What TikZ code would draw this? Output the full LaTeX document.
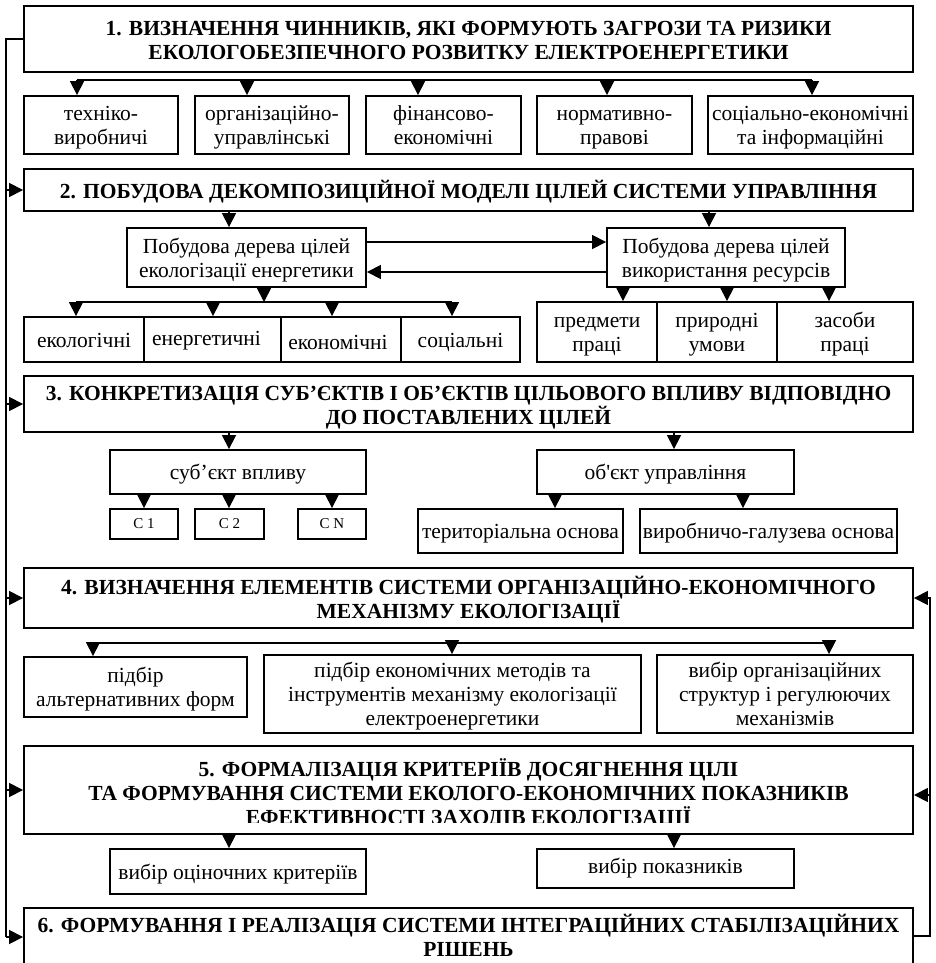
\documentclass[tikz,border=0pt]{standalone}
\usepackage{fontspec}
\setmainfont{Liberation Serif}
\usetikzlibrary{arrows.meta}
\newcommand\vconn[3]{\draw[arr] (#1,0 |- #2) -- (#1,0 |- #3);}
\newcommand\bh{\rule{0pt}{22.8pt}}
\newcommand\bd{\rule[-7.2pt]{0pt}{7.2pt}}
\newcommand\tsh{\rule{0pt}{21.5pt}}
\newcommand\tsd{\rule[-4.5pt]{0pt}{4.5pt}}
\newcommand\bt[1]{\bh#1\bd}
\newcommand\ttl[1]{\tsh#1\tsd}
\begin{document}
\begin{tikzpicture}[x=1pt,y=-1pt,
 box/.style={draw, line width=1.9pt, inner sep=0pt, align=center, font=\fontsize{21.5}{24}\selectfont},
 tbox/.style={box, font=\fontsize{21.5}{24}\selectfont\bfseries},
 txt/.style={inner sep=0pt, align=center, font=\fontsize{21.5}{24}\selectfont\bfseries},
 small/.style={box, font=\fontsize{15}{17}\selectfont},
 ln/.style={line width=1.7pt},
 arr/.style={line width=1.7pt, -{Triangle[width=14pt,length=14pt]}}]
\clip (0,0) rectangle (935,963);
\fill[white] (0,0) rectangle (935,963);
% ---- block 1
\node[tbox, minimum width=889pt, minimum height=66pt] (b1) at (468.5,39) {\raisebox{-2pt}{\parbox{880pt}{\centering\tsh 1. ВИЗНАЧЕННЯ ЧИННИКІВ, ЯКІ ФОРМУЮТЬ ЗАГРОЗИ ТА РИЗИКИ\\ЕКОЛОГОБЕЗПЕЧНОГО РОЗВИТКУ ЕЛЕКТРОЕНЕРГЕТИКИ\tsd}}};
\node[box, minimum width=154pt, minimum height=58pt] (f1) at (101,125) {\bt{техніко-\\виробничі}};
\node[box, minimum width=154pt, minimum height=58pt] (f2) at (272,125) {\bt{організаційно-\\управлінські}};
\node[box, minimum width=155pt, minimum height=58pt] (f3) at (443.5,125) {\bt{фінансово-\\економічні}};
\node[box, minimum width=155pt, minimum height=58pt] (f4) at (614.5,125) {\bt{нормативно-\\правові}};
\node[box, minimum width=205pt, minimum height=58pt] (f5) at (810.5,125) {\bt{соціально-економічні\\та інформаційні}};
\coordinate (d1a) at (77,80);
\coordinate (d1b) at (812,80);
\draw[ln] (d1a) -- (d1b);
\foreach \n/\x in {f1/77,f2/247,f3/418,f4/607,f5/812} {\vconn{\x}{d1a}{\n.north}}
% ---- block 2
\node[tbox, minimum width=889pt, minimum height=42pt] (b2) at (468.5,190) {\ttl{2. ПОБУДОВА ДЕКОМПОЗИЦІЙНОЇ МОДЕЛІ ЦІЛЕЙ СИСТЕМИ УПРАВЛІННЯ}};
\node[box, minimum width=239pt, minimum height=59pt] (g1) at (246.5,257.5) {\bt{Побудова дерева цілей\\екологізації енергетики}};
\node[box, minimum width=238pt, minimum height=59pt] (g2) at (726,257.5) {\bt{Побудова дерева цілей\\використання ресурсів}};
\vconn{229}{b2.south}{g1.north}
\vconn{709}{b2.south}{g2.north}
\draw[arr] (g1.east |- 0,242) -- (g2.west |- 0,242);
\draw[arr] (g2.west |- 0,272) -- (g1.east |- 0,272);
\coordinate (d2a) at (76,302);
\coordinate (d2b) at (452,302);
\draw[ln] (d2a) -- (d2b);
\vconn{264}{g1.south}{d2a}
\node[box, minimum width=120pt, minimum height=45pt] (e1) at (84,339.5) {\bt{екологічні}};
\node[box, minimum width=137pt, minimum height=45pt] (e2) at (212.5,339.5) {\bt{\raisebox{2pt}{енергетичні}\kern12pt}};
\node[box, minimum width=120pt, minimum height=45pt] (e3) at (341,339.5) {\bt{\raisebox{-2pt}{економічні}\kern6pt}};
\node[box, minimum width=119pt, minimum height=45pt] (e4) at (460.5,339.5) {\bt{соціальні}};
\foreach \n/\x in {e1/76,e2/213,e3/332,e4/452} {\vconn{\x}{d2a}{\n.north}}
\node[box, minimum width=120pt, minimum height=60pt] (h1) at (597,332) {\bt{предмети\\праці}};
\node[box, minimum width=120pt, minimum height=60pt] (h2) at (717,332) {\bt{природні\\умови}};
\node[box, minimum width=136pt, minimum height=60pt] (h3) at (845,332) {\bt{засоби\\праці}};
\foreach \n/\x in {h1/623,h2/727,h3/829} {\vconn{\x}{g2.south}{\n.north}}
% ---- block 3
\node[tbox, minimum width=889pt, minimum height=56pt] (b3) at (468.5,404) {\ttl{3. КОНКРЕТИЗАЦІЯ СУБ’ЄКТІВ І ОБ’ЄКТІВ ЦІЛЬОВОГО ВПЛИВУ ВІДПОВІДНО\\ДО ПОСТАВЛЕНИХ ЦІЛЕЙ}};
\node[box, minimum width=256pt, minimum height=44pt] (s) at (238,472) {\bt{суб’єкт впливу}};
\node[box, minimum width=257pt, minimum height=44pt] (o) at (665.5,472) {\bt{об\textquotesingle єкт управління}};
\vconn{229}{b3.south}{s.north}
\vconn{674}{b3.south}{o.north}
\node[small, minimum width=68pt, minimum height=30pt] (c1) at (144,524) {C 1};
\node[small, minimum width=69pt, minimum height=30pt] (c2) at (229.5,524) {C 2};
\node[small, minimum width=68pt, minimum height=30pt] (cn) at (332,524) {C N};
\foreach \n/\x in {c1/144,c2/229,cn/332} {\vconn{\x}{s.south}{\n.north}}
\node[box, minimum width=205pt, minimum height=44pt] (t1) at (520.5,531) {\bt{територіальна основа}};
\node[box, minimum width=257pt, minimum height=44pt] (t2) at (768.5,531) {\bt{виробничо-галузева основа}};
\vconn{555}{o.south}{t1.north}
\vconn{743}{o.south}{t2.north}
% ---- block 4
\node[tbox, minimum width=889pt, minimum height=60pt] (b4) at (468.5,598) {\ttl{4. ВИЗНАЧЕННЯ ЕЛЕМЕНТІВ СИСТЕМИ ОРГАНІЗАЦІЙНО-ЕКОНОМІЧНОГО\\МЕХАНІЗМУ ЕКОЛОГІЗАЦІЇ}};
\coordinate (d4a) at (93,643);
\coordinate (d4b) at (829,643);
\draw[ln] (d4a) -- (d4b);
\node[box, minimum width=223pt, minimum height=60pt] (k1) at (135.5,687) {\bt{підбір\\альтернативних форм}};
\node[box, minimum width=377pt, minimum height=74pt] (k2) at (452.5,694) {\parbox{370pt}{\centering\bh підбір економічних методів та\\інструментів механізму екологізації\\електроенергетики\bd}};
\node[box, minimum width=256pt, minimum height=74pt] (k3) at (785,694) {\raisebox{-3pt}{\parbox{250pt}{\centering\bh вибір організаційних\\структур і регулюючих\\механізмів\bd}}};
\foreach \n/\x in {k1/93,k2/452,k3/829} {\vconn{\x}{d4a}{\n.north}}
% ---- block 5
\node[box, minimum width=889pt, minimum height=88pt] (b5) at (468.5,790) {};
\begin{scope}
\clip (25,747) rectangle (912,822.5);
\node[txt] (b5t) at (468.5,792.5) {\ttl{5. ФОРМАЛІЗАЦІЯ КРИТЕРІЇВ ДОСЯГНЕННЯ ЦІЛІ\\ТА ФОРМУВАННЯ СИСТЕМИ ЕКОЛОГО-ЕКОНОМІЧНИХ ПОКАЗНИКІВ\\ЕФЕКТИВНОСТІ ЗАХОДІВ ЕКОЛОГІЗАЦІЇ}};
\end{scope}
\node[box, minimum width=256pt, minimum height=45pt] (p1) at (238,871.5) {\bt{вибір оціночних критеріїв}};
\node[box, minimum width=257pt, minimum height=39pt] (p2) at (665.5,868.5) {\bt{\raisebox{3pt}{вибір показників}}};
\vconn{229}{b5.south}{p1.north}
\vconn{674}{b5.south}{p2.north}
% ---- block 6
\node[box, minimum width=889pt, minimum height=77pt] (b6) at (468.5,946.5) {};
\node[txt] (b6t) at (468.5,935.5) {\ttl{6. ФОРМУВАННЯ І РЕАЛІЗАЦІЯ СИСТЕМИ ІНТЕГРАЦІЙНИХ СТАБІЛІЗАЦІЙНИХ\\РІШЕНЬ}};
% ---- feedback lines
\draw[ln] (b1.west) -| (6,937);
\foreach \n in {b2,b3,b4,b5} {\draw[arr] (6,0 |- \n.west) -- (\n.west);}
\draw[arr] (6,937) -- (b6.west |- 0,937);
\draw[ln] (b6.east |- 0,936) -| (930,597);
\draw[arr] (930,0 |- b4.east) -- (b4.east);
\draw[arr] (930,795) -- (b5.east |- 0,795);
\end{tikzpicture}
\end{document}
